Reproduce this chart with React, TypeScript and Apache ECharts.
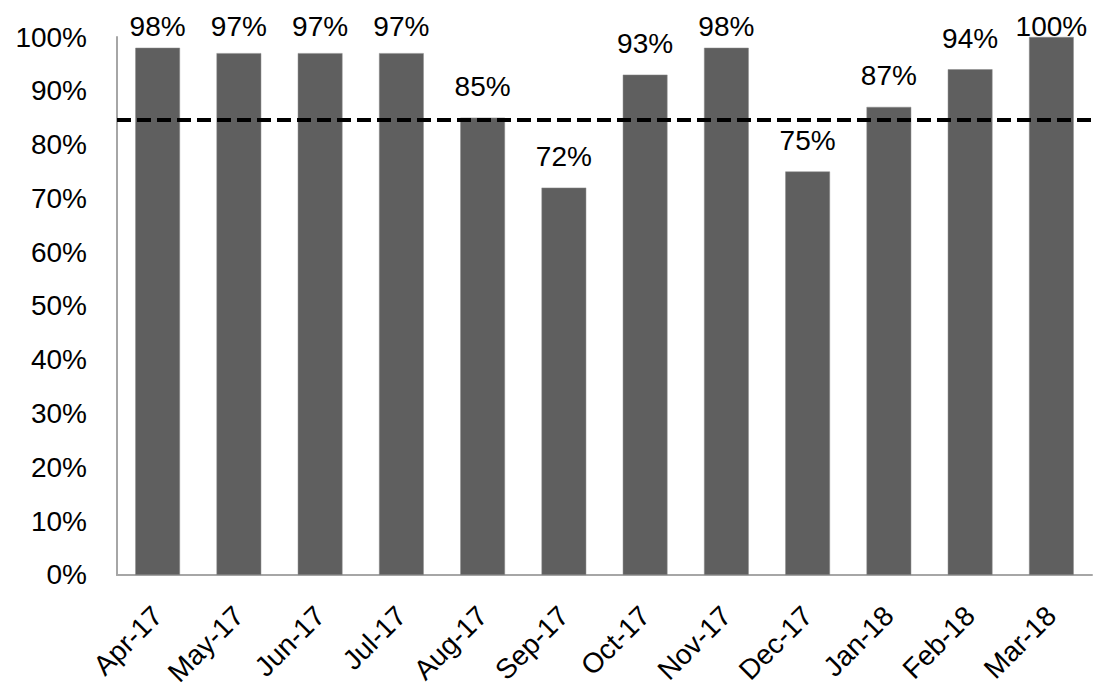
import React, { useEffect, useRef } from "react";
import * as echarts from "echarts";

const categories = ["Apr-17", "May-17", "Jun-17", "Jul-17", "Aug-17", "Sep-17", "Oct-17", "Nov-17", "Dec-17", "Jan-18", "Feb-18", "Mar-18"];
const values = [98, 97, 97, 97, 85, 72, 93, 98, 75, 87, 94, 100];
const target = 84.6;
const yTicks = [0, 10, 20, 30, 40, 50, 60, 70, 80, 90, 100];

export default function App() {
  const ref = useRef<HTMLDivElement>(null);
  useEffect(() => {
    if (!ref.current) return;
    const chart = echarts.init(ref.current, null, { renderer: "svg" });
    const font = "Liberation Sans, Arial, sans-serif";
    chart.setOption({
      animation: false,
      backgroundColor: "#ffffff",
      grid: { left: 117, top: 37, right: 7, bottom: 113, containLabel: false },
      xAxis: {
        type: "category",
        data: categories,
        axisLine: { show: true, lineStyle: { color: "#a6a6a6", width: 2 } },
        axisTick: { show: false },
        axisLabel: {
          rotate: 45,
          interval: 0,
          margin: 36,
          color: "#000000",
          fontSize: 28,
          fontFamily: font,
        },
      },
      yAxis: {
        type: "value",
        min: 0,
        max: 100,
        interval: 10,
        splitLine: { show: false },
        axisLine: { show: true, lineStyle: { color: "#a6a6a6", width: 2 } },
        axisTick: { show: false },
        axisLabel: {
          margin: 30,
          color: "#000000",
          fontSize: 28,
          fontFamily: font,
          formatter: (v: number) => (yTicks.includes(v) ? v + "%" : ""),
        },
      },
      series: [
        {
          type: "bar",
          data: values,
          barWidth: "55%",
          itemStyle: { color: "#5f5f5f", borderColor: "#8a8a8a", borderWidth: 0.5 },
          label: {
            show: true,
            position: "top",
            distance: 17,
            color: "#000000",
            fontSize: 28,
            fontFamily: font,
            formatter: (p: any) => p.value + "%",
          },
          labelLayout: (params: any) => {
            const r = params.labelRect || params.rect;
            const minTop = 12;
            if (r && r.y < minTop) return { dy: minTop - r.y };
            return {};
          },
          markLine: {
            silent: true,
            symbol: "none",
            label: { show: false },
            lineStyle: { color: "#000000", width: 4, type: [14, 6] },
            data: [{ yAxis: target }],
          },
        },
      ],
    });
    return () => chart.dispose();
  }, []);
  return <div ref={ref} style={{ position: "fixed", left: 0, top: 0, width: 1099, height: 689 }} />;
}
